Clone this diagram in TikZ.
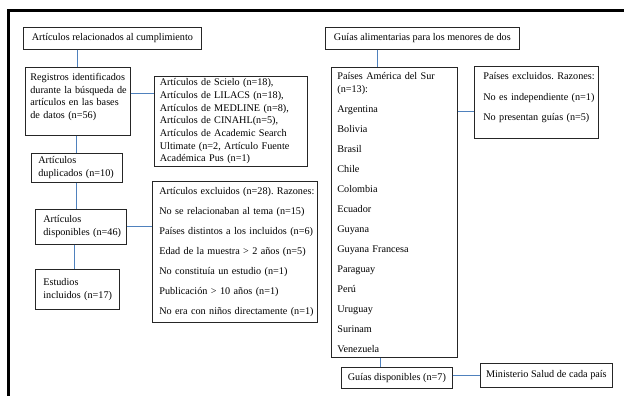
\documentclass[tikz,border=0pt]{standalone}
\usepackage{fontspec}
\setmainfont{Liberation Serif}
\newcommand\jline[1]{\makebox[\hsize][s]{#1}}
\definecolor{linkblue}{HTML}{4F81BD}
\tikzset{
  box/.style={draw=black!85, line width=0.7pt, anchor=north west, inner sep=0pt,
    font=\fontsize{10.2}{12.7}\selectfont\frenchspacing, align=left},
  cbox/.style={box, align=center},
  conn/.style={draw=linkblue, line width=0.9pt},
  frame/.style={draw=black, line width=2.7pt}
}
\begin{document}
\begin{tikzpicture}[x=1pt, y=-1pt]
\useasboundingbox (0,0) rectangle (624,396);
\draw[frame] (8.7,396) -- (8.7,10.7) -- (624,10.7);

% left column
\node[cbox, minimum width=178pt, minimum height=22pt] (b1) at (23,27) {Artículos relacionados al cumplimiento};
\node[box, minimum width=105pt, minimum height=68pt, text width=95pt] (reg) at (25,67)
  {\jline{Registros identificados}\\ \jline{durante la búsqueda de}\\ \jline{artículos en las bases}\\ de datos (n=56)\\[-1.7pt]\mbox{}};
\node[box, minimum width=153pt, minimum height=90pt, text width=142pt] (sci) at (154,76)
  {\jline{Artículos de Scielo (n=18),}\\ \jline{Artículos de LILACS (n=18),}\\ \jline{Artículos de MEDLINE (n=8),}\\ \jline{Artículos de CINAHL(n=5),}\\ \jline{Artículos de Academic Search}\\ \jline{Ultimate (n=2, Artículo Fuente}\\ Académica Pus (n=1)};
\node[box, minimum width=91pt, minimum height=29pt, text width=77pt] (dup) at (31,153)
  {Artículos\\ \mbox{duplicados (n=10)}};
\node[box, minimum width=91pt, minimum height=35pt, text width=75pt] (disp) at (35,209)
  {Artículos\\ \mbox{disponibles (n=46)}};
\node[box, minimum width=84pt, minimum height=40pt, text width=68pt] (est) at (35,269)
  {Estudios\\ \mbox{incluidos (n=17)}};
\node[box, minimum width=165pt, minimum height=141pt, text width=151pt] (exc) at (152,181)
  {\mbox{Artículos excluidos (n=28). Razones:}\\[7.3pt]
   \mbox{No se relacionaban al tema (n=15)}\\[7.3pt]
   \mbox{Países distintos a los incluidos (n=6)}\\[7.3pt]
   \mbox{Edad de la muestra > 2 años (n=5)}\\[7.3pt]
   \mbox{No constituía un estudio (n=1)}\\[7.3pt]
   \mbox{Publicación > 10 años (n=1)}\\[7.3pt]
   \mbox{No era con niños directamente (n=1)}};

% right column
\node[cbox, minimum width=194pt, minimum height=22pt] (gui) at (325,27) {Guías alimentarias para los menores de dos};
\node[box, minimum width=126pt, minimum height=290pt, text width=114pt] (pai) at (331,67)
  {\jline{Países América del Sur}\\ (n=13):\\[7.3pt]
   Argentina\\[7.3pt] Bolivia\\[7.3pt] Brasil\\[7.3pt] Chile\\[7.3pt] Colombia\\[7.3pt]
   Ecuador\\[7.3pt] Guyana\\[7.3pt] Guyana Francesa\\[7.3pt] Paraguay\\[7.3pt] Perú\\[7.3pt]
   Uruguay\\[7.3pt] Surinam\\[7.3pt] Venezuela};
\node[box, minimum width=124pt, minimum height=72pt, text width=106pt] (rexc) at (474,66)
  {\mbox{Países excluidos. Razones:}\\[7.8pt]
   \mbox{No es independiente (n=1)}\\[7.8pt]
   \mbox{No presentan guías (n=5)}\\[-1.7pt]\mbox{}};
\node[cbox, minimum width=111pt, minimum height=21pt] (gdisp) at (341,367) {Guías disponibles (n=7)};
\node[cbox, minimum width=132pt, minimum height=24pt] (min) at (480,363) {Ministerio Salud de cada país};

% connectors
\draw[conn] (reg.north |- b1.south) -- (reg.north);
\draw[conn] ([yshift=8pt]reg.east) -- ([yshift=8pt]reg.east -| sci.west);
\draw[conn] (dup.north |- reg.south) -- (dup.north);
\draw[conn] ([xshift=-0.5pt]dup.south) -- ([xshift=-0.5pt]dup.south |- disp.north);
\draw[conn] (disp.east) -- (disp.east -| exc.west);
\draw[conn] ([xshift=-3pt]est.north |- disp.south) -- ([xshift=-3pt]est.north);
\draw[conn] ([xshift=-17pt]pai.north |- gui.south) -- ([xshift=-17pt]pai.north);
\draw[conn] ([yshift=-9pt]rexc.west -| pai.east) -- ([yshift=-9pt]rexc.west);
\draw[conn] ([xshift=-16pt]gdisp.north |- pai.south) -- ([xshift=-16pt]gdisp.north);
\draw[conn] (gdisp.east |- min.west) -- (min.west);
\end{tikzpicture}
\end{document}
